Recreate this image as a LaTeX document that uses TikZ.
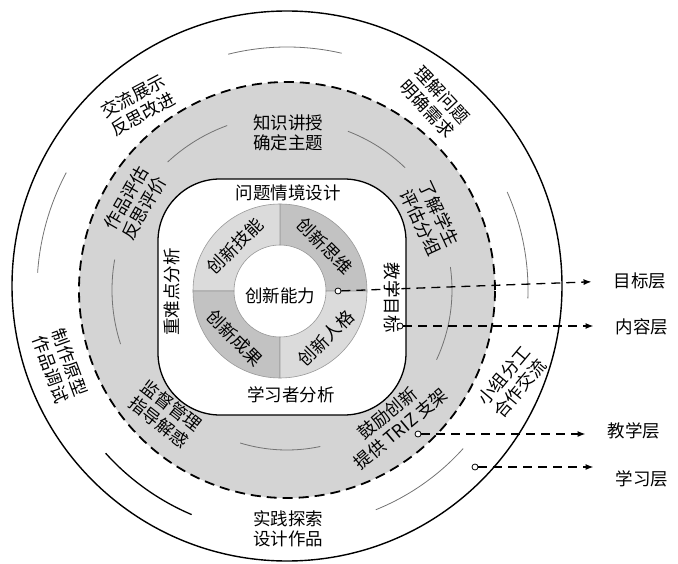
\documentclass[tikz,border=0pt]{standalone}
\usepackage{fontspec}
\newfontfamily\cjk{Noto Sans CJK SC}
\usetikzlibrary{arrows.meta,calc}

\begin{document}
\begin{tikzpicture}[
  x=1pt, y=1pt,
  every node/.style={font=\cjk\fontsize{17.5}{20.5}\selectfont, inner sep=0pt},
  lbl/.style={align=center},
  dot/.style={circle, draw, fill=white, line width=0.8pt, minimum size=6pt, inner sep=0pt},
  arr/.style={dash pattern=on 9pt off 6pt, line width=1.3pt, -{Latex[length=8pt,width=6pt]}},
  cyc/.style={draw=black!55, line width=0.8pt},
  sector/.style={draw=black!40, line width=0.6pt},
]
  \useasboundingbox (0,0) rectangle (678,-564);
  \coordinate (oc) at (287,-286);
  \coordinate (mc) at (287,-290);
  \coordinate (rc) at (280,-291);

  % outer rings
  \draw[line width=1.4pt] (oc) circle[radius=275pt];
  \draw[fill=black!17, line width=1.8pt, dash pattern=on 10pt off 6pt] (mc) circle[radius=208pt];

  % cycle arcs
  \foreach \r/\a/\b in {175/133/110, 170/69/46, 165/8/-25, 160/-107/-78, 175/170/198,
                        243/104/77, 241/24/-2, 237/-42/-68, 250/152/176}
    \draw[cyc] (mc) ++(\a:\r pt) arc[start angle=\a, end angle=\b, radius=\r pt];
  \draw[line width=1.3pt] (mc) ++(-138:244pt) arc[start angle=-138, end angle=-113, radius=244pt];

  % inner square
  \node[draw, fill=white, line width=1.3pt, rounded corners=62pt,
        minimum width=248pt, minimum height=236pt] (sq) at (282,-297) {};

  % ring of four parts
  \foreach \a/\col in {0/black!24, 90/black!14, 180/black!24, 270/black!14}
    \filldraw[sector, fill=\col] (rc) ++(\a:46pt) -- ++(\a:41pt)
      arc[start angle=\a, end angle=\a+90, radius=87pt]
      -- ($(rc)+(\a+90:46pt)$)
      arc[start angle=\a+90, end angle=\a, radius=46pt] -- cycle;

  \node (core) at (280,-296) {创新能力};
  \node[rotate=45]  (skill) at (235,-246) {创新技能};
  \node[rotate=-45] (think) at (325,-246) {创新思维};
  \node[rotate=-45] (fruit) at (235,-338) {创新成果};
  \node[rotate=45]  (pers)  at (326,-338) {创新人格};

  % square texts
  \node (sit) at (288,-193) {问题情境设计};
  \node (lrn) at (291,-395) {学习者分析};
  \node[rotate=90]  (key) at (172,-292) {重难点分析};
  \node[rotate=-90] (aim) at (392,-298) {教学目标};

  % teaching band
  \node[lbl] (t1) at (288,-133) {知识讲授\\确定主题};
  \node[lbl, rotate=-65] (t2) at (430,-218) {了解学生\\评估分组};
  \node[lbl, rotate=40]  (t3) at (394,-421) {鼓励创新\\提供 TRIZ 支架};
  \node[lbl, rotate=-38] (t4) at (165,-414) {监督管理\\指导解惑};
  \node[lbl, rotate=60]  (t5) at (135,-203) {作品评估\\反思评价};

  % learning band
  \node[lbl, rotate=28]  (s1) at (138,-105) {交流展示\\反思改进};
  \node[lbl, rotate=-47] (s2) at (435,-102) {理解问题\\明确需求};
  \node[lbl, rotate=50]  (s3) at (512,-382) {小组分工\\合作交流};
  \node[lbl]             (s4) at (288,-529) {实践探索\\设计作品};
  \node[lbl, rotate=-70] (s5) at (60,-366)  {制作原型\\作品调试};

  % layer labels
  \node[dot] (d1) at (338,-291) {};
  \node[dot] (d2) at (400,-326) {};
  \node[dot] (d3) at (418,-434) {};
  \node[dot] (d4) at (475,-467) {};
  \node (goal)  at (640,-281) {目标层};
  \node (cont)  at (642,-327) {内容层};
  \node (teach) at (634,-431) {教学层};
  \node (study) at (642,-479) {学习层};
  \draw[arr, shorten >=22pt] (d1) -- (goal.west);
  \draw[arr, shorten >=22pt] (d2) -- (d2 -| cont.west);
  \draw[arr, shorten >=22pt] (d3) -- (d3 -| teach.west);
  \draw[arr, shorten >=22pt] (d4) -- (d4 -| study.west);
\end{tikzpicture}
\end{document}
